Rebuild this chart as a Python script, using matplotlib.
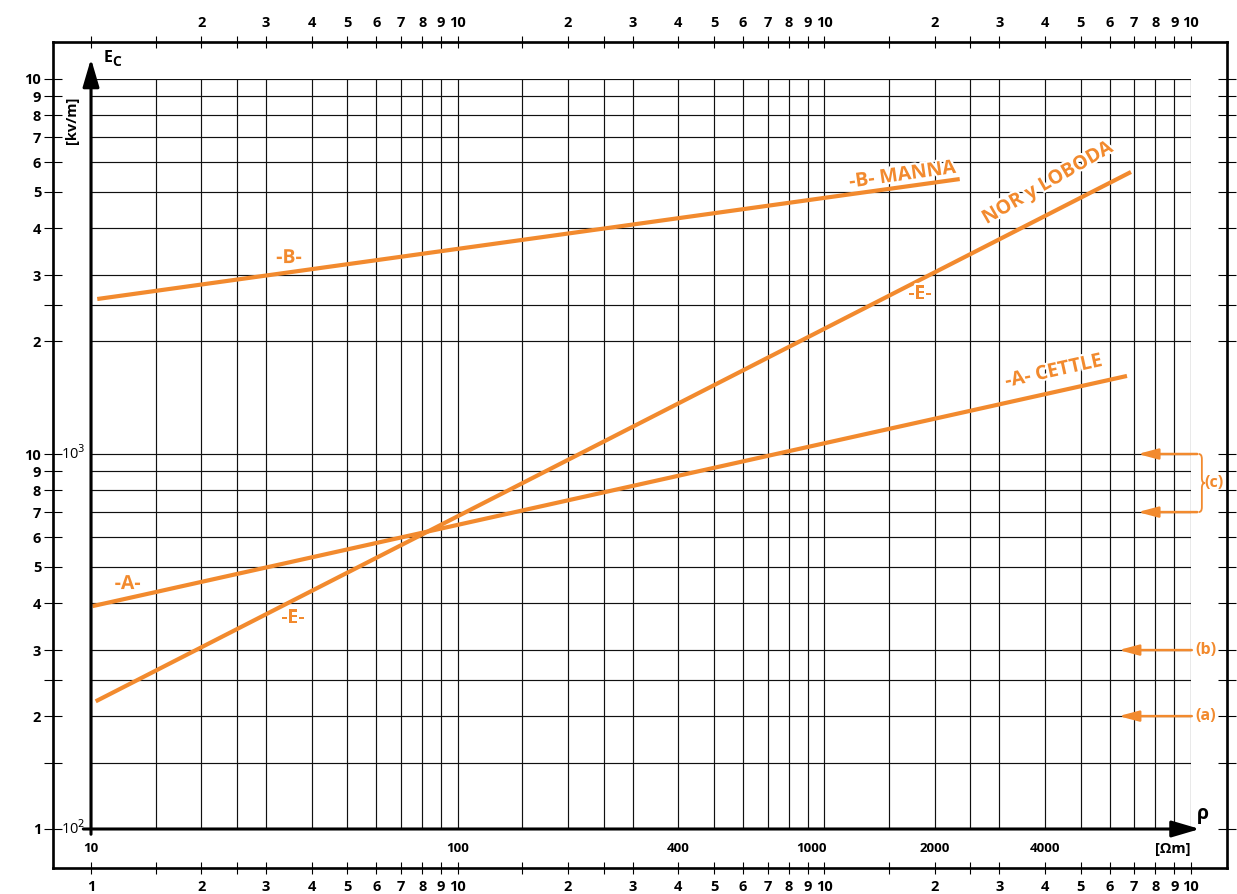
import numpy as np
import matplotlib.pyplot as plt
import matplotlib.patheffects as pe
from matplotlib.ticker import FixedLocator, NullLocator, FixedFormatter
from matplotlib.path import Path
from matplotlib.patches import PathPatch

plt.rcParams['font.family'] = ['Open Sans', 'DejaVu Sans']

# Gradiente crítico Ec [kV/m] frente a resistividad rho [ohm m]
rho_A = [10.1, 6690]
ec_A = [393, 1615]
rho_B = [10.4, 2340]
ec_B = [2590, 5410]
rho_E = [10.3, 6860]
ec_E = [219, 5650]

# niveles marcados a la derecha
nivel_c = [1000, 700]
nivel_b = 300
nivel_a = 200

# rejilla logarítmica
mant = [1, 1.5, 2, 2.5, 3, 4, 5, 6, 7, 8, 9]
x_ticks = [m * 10**d for d in (1, 2, 3) for m in mant] + [1e4]
y_ticks = [m * 100 for m in mant] + [m * 1000 for m in mant if m != 1.5] + [1e4]
x_inner = [10, 100, 400, 1000, 2000, 4000]

naranja = '#F28A2E'

W, H = 1237, 894
fig = plt.figure(figsize=(W / 100, H / 100), dpi=100)


def rect(l, t, r, b):
    return [l / W, 1 - b / H, (r - l) / W, (b - t) / H]


# pixeles de 10..1e4 (x) y 1e2..1e4 (y), y del marco exterior
px0, px1, py0, py1 = 91, 1191, 829, 79
fl, ft, fr, fb = 53, 42, 1227, 868
dx = (px1 - px0) / 3
dy = (py0 - py1) / 2

# ---- marco exterior con escalas
axf = fig.add_axes(rect(fl, ft, fr, fb))
axf.set_xscale('log')
axf.set_yscale('log')
xl = (10**(1 - (px0 - fl) / dx), 10**(4 + (fr - px1) / dx))
axf.set_xlim(xl)
axf.set_ylim(10**(2 - (fb - py0) / dy), 10**(4 + (py1 - ft) / dy))
for s in axf.spines.values():
    s.set_linewidth(1.9)


def lab_x(v, first):
    m = round(v / 10**np.floor(np.log10(v) + 1e-9), 3)
    if m == 1:
        return first if v == 10 else '10'
    if m in (1.5, 2.5):
        return ''
    return str(int(m))


def lab_y(v):
    m = round(v / 10**np.floor(np.log10(v) + 1e-9), 3)
    if m == 1:
        return '1' if v == 100 else '10'
    if m in (1.5, 2.5):
        return ''
    return str(int(m))


axf.xaxis.set_major_locator(FixedLocator(x_ticks))
axf.xaxis.set_minor_locator(NullLocator())
axf.xaxis.set_major_formatter(FixedFormatter([lab_x(v, '1') for v in x_ticks]))
axf.yaxis.set_major_locator(FixedLocator(y_ticks))
axf.yaxis.set_minor_locator(NullLocator())
axf.yaxis.set_major_formatter(FixedFormatter([lab_y(v) for v in y_ticks]))
axf.tick_params(axis='x', direction='inout', length=9, width=0.8, pad=4,
                labelsize=10.5, top=False)
axf.tick_params(axis='y', direction='inout', length=13, width=0.8, pad=2,
                labelsize=10.5, right=True)
for t in axf.get_xticklabels() + axf.get_yticklabels():
    t.set_fontweight('bold')

axt = axf.twiny()
axt.set_xscale('log')
axt.set_xlim(xl)
axt.xaxis.set_major_locator(FixedLocator(x_ticks))
axt.xaxis.set_minor_locator(NullLocator())
axt.xaxis.set_major_formatter(FixedFormatter([lab_x(v, '') for v in x_ticks]))
axt.tick_params(axis='x', direction='inout', length=9, width=0.8, pad=4,
                labelsize=10.5)
for t in axt.get_xticklabels():
    t.set_fontweight('bold')

# ---- gráfico principal
ax = fig.add_axes(rect(px0, py1, px1, py0))
ax.set_facecolor('none')
ax.set_xscale('log')
ax.set_yscale('log')
ax.set_xlim(10, 1e4)
ax.set_ylim(100, 1e4)
for s in ax.spines.values():
    s.set_visible(False)
ax.set_xticks([])
ax.set_yticks([])
ax.xaxis.set_minor_locator(NullLocator())
ax.yaxis.set_minor_locator(NullLocator())
ax.vlines(x_ticks, 100, 1e4, color='#111111', lw=0.85, zorder=1)
ax.hlines(y_ticks, 10, 1e4, color='#111111', lw=0.85, zorder=1)

# ejes con flecha
flecha = dict(arrowstyle='-|>,head_length=1.7,head_width=0.5', lw=2.2,
              color='black', mutation_scale=10, shrinkA=0, shrinkB=0)
ax.annotate('', xy=(0, 1.027), xytext=(0, -0.007), xycoords='axes fraction',
            arrowprops=flecha, zorder=5)
ax.annotate('', xy=(1.008, 0), xytext=(-0.007, 0), xycoords='axes fraction',
            arrowprops=flecha, zorder=5)

# rectas
ax.plot(rho_A, ec_A, color=naranja, lw=3, solid_capstyle='butt', zorder=4)
ax.plot(rho_B, ec_B, color=naranja, lw=3, solid_capstyle='butt', zorder=4)
ax.plot(rho_E, ec_E, color=naranja, lw=3, solid_capstyle='butt', zorder=4)

halo = [pe.withStroke(linewidth=3, foreground='white')]
txt = dict(color=naranja, fontsize=14, fontweight='bold', path_effects=halo,
           ha='center', va='center', rotation_mode='anchor', zorder=6)
ax.text(34.7, 3330, '-B-', **txt)
ax.text(1637, 5540, '-B- MANNA', rotation=8, **txt)
ax.text(4074, 5280, 'NOR y LOBODA', rotation=30, **txt)
ax.text(1824, 2671, '-E-', **txt)
ax.text(4227, 1660, '-A- CETTLE', rotation=12.5, **txt)
ax.text(12.6, 450, '-A-', **txt)
ax.text(35.6, 365, '-E-', **txt)

# valores del eje de resistividad
for v in x_inner:
    ax.annotate(str(v), xy=(v, 100), xytext=(-13 if v == 1000 else 0, -19),
                textcoords='offset pixels', ha='center', va='center',
                fontsize=9.5, fontweight='bold', annotation_clip=False)
ax.annotate('[Ωm]', xy=(1e4, 100), xytext=(-18, -20), textcoords='offset pixels',
            ha='center', va='center', fontsize=10.5, fontweight='bold',
            annotation_clip=False)
ax.annotate('ρ', xy=(1e4, 100), xytext=(12, 15), textcoords='offset pixels',
            ha='center', va='center', fontsize=14, fontweight='bold',
            annotation_clip=False)
ax.annotate('10$^3$', xy=(10, 1000), xytext=(-18, 0), textcoords='offset pixels',
            ha='center', va='center', fontsize=10.5, annotation_clip=False)
ax.annotate('10$^2$', xy=(10, 100), xytext=(-18, 0), textcoords='offset pixels',
            ha='center', va='center', fontsize=10.5, annotation_clip=False)
ax.annotate('E', xy=(10, 1e4), xytext=(17, 21), textcoords='offset pixels',
            ha='center', va='center', fontsize=11.5, fontweight='bold',
            annotation_clip=False)
ax.annotate('C', xy=(10, 1e4), xytext=(26, 17), textcoords='offset pixels',
            ha='center', va='center', fontsize=10, fontweight='bold',
            annotation_clip=False)
ax.annotate('[kv/m]', xy=(10, 1e4), xytext=(-19, -41), textcoords='offset pixels',
            ha='center', va='center', fontsize=10.5, fontweight='bold',
            rotation=90, annotation_clip=False)

# marcas de la derecha
fl_nar = dict(arrowstyle='-|>,head_length=1.2,head_width=0.32', lw=1.8,
              color=naranja, mutation_scale=10, shrinkA=0, shrinkB=0)
for y in nivel_c:
    ax.annotate('', xy=(7160, y), xytext=(1.04e4, y), arrowprops=fl_nar,
                annotation_clip=False)
for y, s in [(nivel_b, '(b)'), (nivel_a, '(a)')]:
    ax.annotate('', xy=(6350, y), xytext=(1.005e4, y), arrowprops=fl_nar,
                annotation_clip=False)
    ax.text(1.031e4, y, s, color=naranja, fontsize=11.5, fontweight='bold',
            ha='left', va='center', clip_on=False)

# llave de (c)
xb = 10706
ym = np.sqrt(nivel_c[0] * nivel_c[1])
k = 1.031
verts = [(xb / 1.02, nivel_c[0]), (xb, nivel_c[0]), (xb, nivel_c[0] / k),
         (xb, ym * k),
         (xb, ym), (xb * 1.02, ym),
         (xb, ym), (xb, ym / k),
         (xb, nivel_c[1] * k),
         (xb, nivel_c[1]), (xb / 1.02, nivel_c[1])]
codes = [Path.MOVETO, Path.CURVE3, Path.CURVE3, Path.LINETO,
         Path.CURVE3, Path.CURVE3, Path.CURVE3, Path.CURVE3,
         Path.LINETO, Path.CURVE3, Path.CURVE3]
ax.add_patch(PathPatch(Path(verts, codes), fill=False, ec=naranja, lw=1.3,
                       clip_on=False))
ax.text(1.091e4, ym, '(c)', color=naranja, fontsize=11.5, fontweight='bold',
        ha='left', va='center', clip_on=False)

fig.savefig('out.png', dpi=100)
